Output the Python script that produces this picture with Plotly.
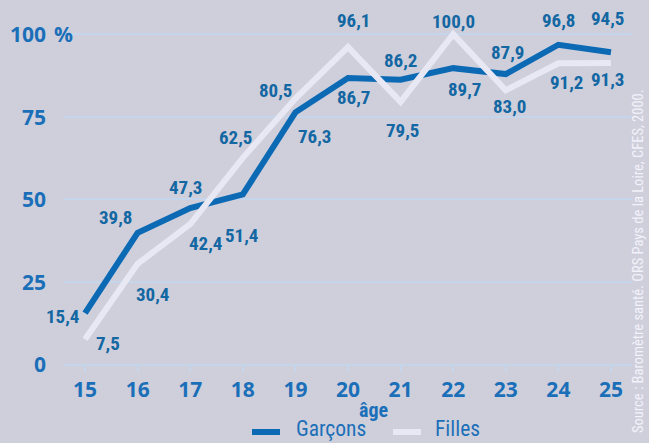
import plotly.graph_objects as go

ages = [15, 16, 17, 18, 19, 20, 21, 22, 23, 24, 25]
garcons = [15.4, 39.8, 47.3, 51.4, 76.3, 86.7, 86.2, 89.7, 87.9, 96.8, 94.5]
filles = [7.5, 30.4, 42.4, 62.5, 80.5, 96.1, 79.5, 100.0, 83.0, 91.2, 91.3]
y_ticks = [0, 25, 50, 75, 100]
series_names = ["Garçons", "Filles"]
source = "Source : Baromètre santé. ORS Pays de la Loire, CFES, 2000."

# label offsets in pixels (dx, dy) relative to point; dy positive = up
g_off = [(-23, -3), (-22, 15), (-5, 21), (-1, -41), (19, -24), (5, -19),
         (0, 19), (11, -21), (2, 22), (0, 24), (-3, 34)]
f_off = [(23, -4), (15, -31), (15, -19), (-7, 20), (-20, 8), (5, 27),
         (2, -29), (0, 13), (4, -16), (8, -19), (-3, -17)]

BG = "#cfcfdc"
GRID = "#c4d5ec"
BLUE = "#0c6ab4"
WHITE = "#e8e8f4"
TICK = "#1b6fb8"
LAB = "#1367a2"
NARROW = "Roboto Condensed, Liberation Sans Narrow, Roboto, sans-serif"
WIDE = "Open Sans, Liberation Sans, sans-serif"

# plot box in pixels (for paper-coordinate placements)
L, R, T, B, W, H = 64, 17, 21, 79, 649, 443
PW, PH = W - L - R, H - T - B
def px(x):
    return (x - L) / PW
def py(y):
    return (H - B - y) / PH

fig = go.Figure()
fig.add_trace(go.Scatter(x=ages, y=garcons, mode="lines", name=series_names[0],
                         line=dict(color=BLUE, width=6), cliponaxis=False))
fig.add_trace(go.Scatter(x=ages, y=filles, mode="lines", name=series_names[1],
                         line=dict(color=WHITE, width=6), cliponaxis=False))

def fmt(v):
    return f"{v:.1f}".replace(".", ",")

anns = []
for vals, offs in ((garcons, g_off), (filles, f_off)):
    for a, v, (dx, dy) in zip(ages, vals, offs):
        anns.append(dict(x=a, y=v, text=f"<b>{fmt(v)}</b>", showarrow=False, xshift=dx, yshift=dy,
                         font=dict(family=NARROW, size=19, color=LAB),
                         xanchor="center", yanchor="middle"))

for t in y_ticks:
    anns.append(dict(x=0, xref="paper", xshift=-16, y=t, text=f"<b>{t}</b>", showarrow=False,
                     xanchor="right", yanchor="middle",
                     font=dict(family=WIDE, size=21, color=TICK)))
anns.append(dict(x=0, xref="paper", xshift=-12, y=100, text="<b>%</b>", showarrow=False,
                 xanchor="left", yanchor="middle",
                 font=dict(family=WIDE, size=21, color=TICK)))

anns.append(dict(x=px(373), xref="paper", y=py(410), yref="paper", text="<b>âge</b>",
                 showarrow=False, xanchor="center", yanchor="middle",
                 font=dict(family=NARROW, size=20, color=TICK)))
anns.append(dict(x=px(638), xref="paper", y=py(261), yref="paper", text=source, showarrow=False,
                 textangle=-90, xanchor="center", yanchor="middle",
                 font=dict(family=NARROW, size=14.5, color="#f2f2fa")))

# legend (manual)
shapes = []
leg = [(series_names[0], BLUE, 252, 294), (series_names[1], WHITE, 393, 433)]
for name, col, x0, xt in leg:
    shapes.append(dict(type="line", xref="paper", yref="paper", x0=px(x0), x1=px(x0 + 28),
                       y0=py(432), y1=py(432), line=dict(color=col, width=6)))
    anns.append(dict(x=px(xt), xref="paper", y=py(443), yref="paper", text=name, showarrow=False,
                     xanchor="left", yanchor="bottom",
                     font=dict(family=NARROW, size=21.5, color=TICK)))

fig.update_layout(
    width=W, height=H,
    paper_bgcolor=BG, plot_bgcolor=BG,
    margin=dict(l=L, r=R, t=T, b=B, autoexpand=False),
    showlegend=False,
    annotations=anns,
    shapes=shapes,
    xaxis=dict(range=[14.6, 25.4], tickvals=ages, showgrid=False, zeroline=False,
               showline=True, linecolor=GRID, linewidth=2,
               ticks="outside", ticklen=6, tickwidth=1.5, tickcolor=GRID,
               tickfont=dict(family=WIDE, size=21, color=TICK, weight="bold"),
               ticklabelstandoff=0, automargin=False),
    yaxis=dict(range=[0, 104], tickvals=y_ticks, showticklabels=False, showgrid=True,
               gridcolor=GRID, gridwidth=2, zeroline=False, showline=False, automargin=False),
)

fig.write_html("out.html", config={"displayModeBar": False},
               post_script="document.body.style.margin='0px';document.body.style.background='" + BG + "';")
